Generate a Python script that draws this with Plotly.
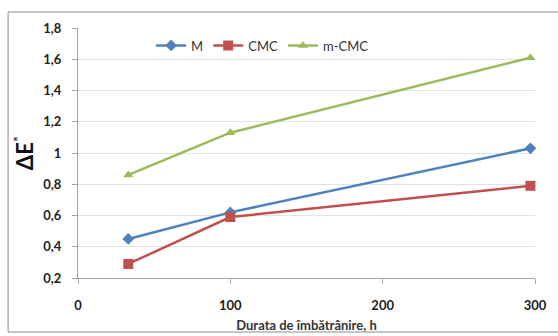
import plotly.graph_objects as go

# Ageing duration (hours) and colour difference values per treatment
hours = [33, 100, 297]
m_vals = [0.45, 0.62, 1.03]
cmc_vals = [0.29, 0.59, 0.79]
mcmc_vals = [0.86, 1.13, 1.61]

series_names = ["M", "CMC", "m-CMC"]
x_ticks = [0, 100, 200, 300]
y_ticks = [0.2, 0.4, 0.6, 0.8, 1.0, 1.2, 1.4, 1.6, 1.8]
y_tick_text = ["0,2", "0,4", "0,6", "0,8", "1", "1,2", "1,4", "1,6", "1,8"]

colors = ["#4F81BD", "#C0504D", "#9BBB59"]
symbols = ["diamond", "square", "triangle-up"]
sizes = [9, 10, 9]

fig = go.Figure()
for name, vals, c, s, sz in zip(series_names, [m_vals, cmc_vals, mcmc_vals], colors, symbols, sizes):
    fig.add_trace(go.Scatter(
        x=hours, y=vals, name=name, mode="lines+markers",
        line=dict(color=c, width=2.5),
        marker=dict(symbol=s, size=sz, color=c),
        cliponaxis=False,
    ))

font_family = "Lato, 'Open Sans', sans-serif"

fig.update_layout(
    width=558, height=336,
    margin=dict(l=78, r=23, t=28, b=58),
    paper_bgcolor="white", plot_bgcolor="white",
    font=dict(family=font_family, color="#222222"),
    showlegend=True,
    legend=dict(
        orientation="h", x=0.16, y=0.93, xanchor="left", yanchor="middle",
        font=dict(size=13, color="#333333"), bgcolor="rgba(0,0,0,0)",
        itemwidth=30, tracegroupgap=0,
    ),
    xaxis=dict(
        range=[0, 300], tickvals=x_ticks, showgrid=False, automargin=False,
        showline=True, linecolor="#a6a6a6", linewidth=1,
        ticks="outside", ticklen=5, tickcolor="#a6a6a6",
        ticklabelstandoff=10,
        tickfont=dict(size=13, family=font_family, weight="bold", color="#222222"),
        zeroline=False,
        title=dict(text="<b>Durata de îmbătrânire, h</b>", font=dict(size=13, color="#333333"), standoff=9),
    ),
    yaxis=dict(
        range=[0.2, 1.8], tickvals=y_ticks, ticktext=y_tick_text, automargin=False,
        showgrid=True, gridcolor="#e3e3e3", gridwidth=1,
        showline=True, linecolor="#a6a6a6", linewidth=1,
        ticks="outside", ticklen=5, tickcolor="#a6a6a6",
        ticklabelstandoff=8,
        tickfont=dict(size=13, family=font_family, weight="bold", color="#222222"),
        zeroline=False,
    ),
    annotations=[dict(
        text="<b>ΔE</b><sup>*</sup>", xref="paper", yref="paper",
        x=-0.12, y=0.5, textangle=-90, showarrow=False,
        font=dict(size=22, color="#111111", family=font_family),
        xanchor="center", yanchor="middle",
    )],
    shapes=[dict(
        type="rect", xref="paper", yref="paper",
        x0=-0.153, x1=1.07, y0=-0.216, y1=1.064,
        line=dict(color="#8c8c8c", width=1), fillcolor="rgba(0,0,0,0)", layer="below",
    )],
)

fig.write_html("out.html")
